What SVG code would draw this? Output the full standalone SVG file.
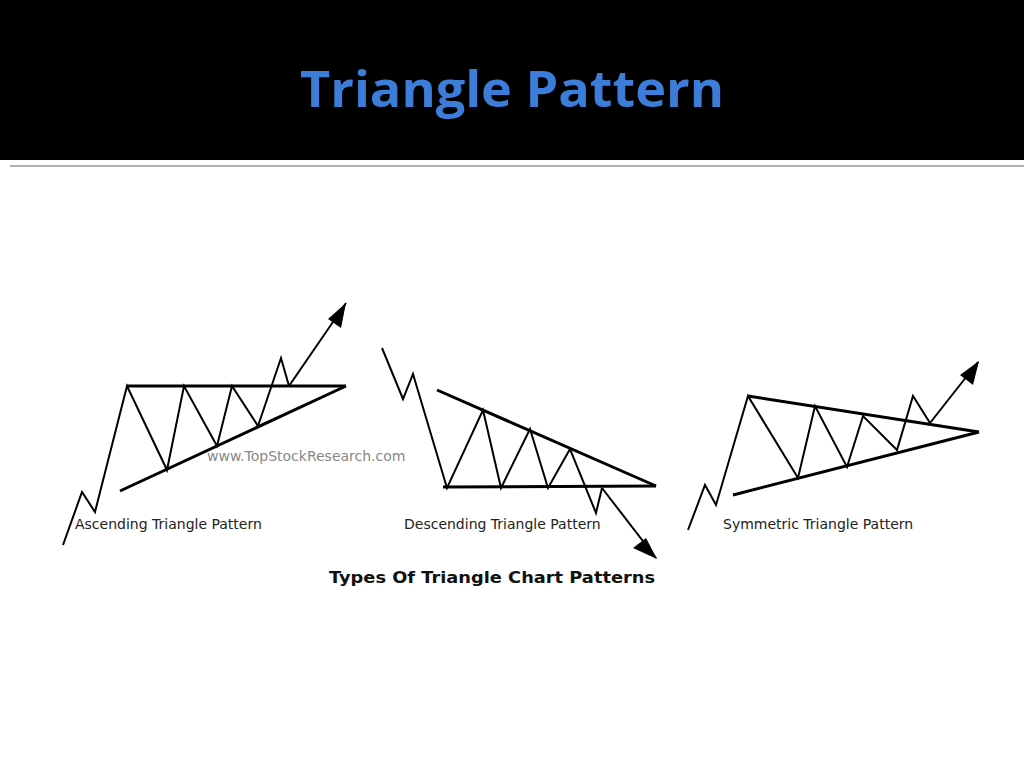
<svg xmlns="http://www.w3.org/2000/svg" width="1024" height="768" viewBox="0 0 1024 768">
<defs>
<style>
.z{fill:none;stroke:#000;stroke-width:2;stroke-linejoin:miter}
.b{fill:none;stroke:#000;stroke-width:3}
.lab{font-family:Verdana,"DejaVu Sans",sans-serif;font-size:14px;fill:#222}
</style>
<marker id="ah" markerWidth="10" markerHeight="10" refX="9" refY="5" orient="auto" markerUnits="userSpaceOnUse" viewBox="0 0 10 10">
<path d="M0,0 L10,5 L0,10 z" fill="#000"/>
</marker>
</defs>
<rect width="1024" height="768" fill="#fff"/>
<rect width="1024" height="160" fill="#000"/>
<text x="512" y="107" text-anchor="middle" font-family="'Open Sans',sans-serif" font-weight="bold" font-size="50" fill="#3b7dd8" textLength="424" lengthAdjust="spacingAndGlyphs">Triangle Pattern</text>
<line x1="10" y1="166" x2="1024" y2="166" stroke="#999" stroke-width="1.5"/>
<g id="ascending">
<line class="b" x1="127" y1="386" x2="346" y2="386"/>
<line class="b" x1="120" y1="491" x2="346" y2="386"/>
<polyline class="z" points="63,545 82,492 95,512 127,386 167,470 184,386 217,446 232,386 258,426 281,358 289,386"/>
<line class="z" x1="289" y1="386" x2="346" y2="303"/>
<path d="M346,303 L341,328 L328,319 z" fill="#000"/>
<text class="lab" x="75" y="529">Ascending Triangle Pattern</text>
<text x="207" y="461" font-family="Verdana,'DejaVu Sans',sans-serif" font-size="14" fill="#888">www.TopStockResearch.com</text>
</g>
<g id="descending">
<line class="b" x1="437" y1="390" x2="656" y2="486"/>
<line class="b" x1="443" y1="487" x2="656" y2="486"/>
<polyline class="z" points="382,348 403,399 413,374 447,488 483,410 501,488 530,429 548,488 570,449 596,513 602,488"/>
<line class="z" x1="602" y1="488" x2="656" y2="558"/>
<path d="M657,559 L633,548 L646,538 z" fill="#000"/>
<text class="lab" x="404" y="529">Descending Triangle Pattern</text>
</g>
<g id="symmetric">
<line class="b" x1="748" y1="396" x2="979" y2="432"/>
<line class="b" x1="733" y1="495" x2="979" y2="432"/>
<polyline class="z" points="688,530 705,485 716,505 748,396 798,478 815,406 847,467 863,416 897,450 913,396 930,423"/>
<line class="z" x1="930" y1="423" x2="978" y2="362"/>
<path d="M979,361 L973,385 L960,375 z" fill="#000"/>
<text class="lab" x="723" y="529">Symmetric Triangle Pattern</text>
</g>
<text x="329" y="583" font-family="Verdana,'DejaVu Sans',sans-serif" font-weight="bold" font-size="15" fill="#111" textLength="326" lengthAdjust="spacingAndGlyphs">Types Of Triangle  Chart Patterns</text>
</svg>
